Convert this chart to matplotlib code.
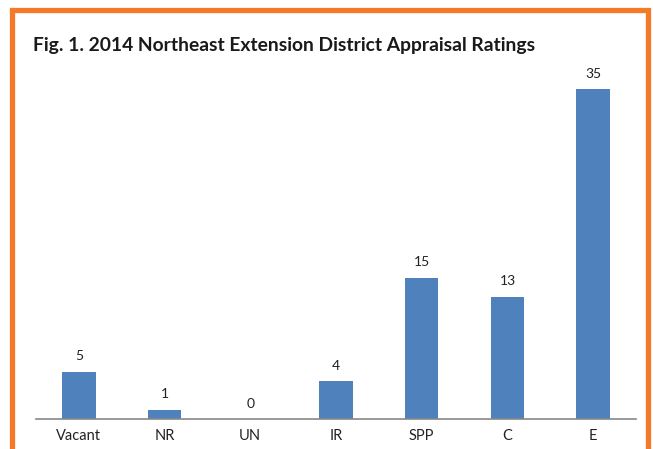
import matplotlib.pyplot as plt
from matplotlib.patches import Rectangle

categories = ["Vacant", "NR", "UN", "IR", "SPP", "C", "E"]
ratings = [5, 1, 0, 4, 15, 13, 35]

W, H = 653, 449
fig = plt.figure(figsize=(W / 100, H / 100), dpi=100)

# axes placed in pixel terms: x 36..636, baseline at y=419
ax = fig.add_axes([36 / W, (H - 419) / H, 600 / W, 358 / H])
ax.bar(range(len(categories)), ratings, width=0.39, color="#4F81BD")
ax.set_xlim(-0.5, len(categories) - 0.5)
ax.set_ylim(0, 38)

for i, v in enumerate(ratings):
    ax.text(i, v + 1.0, str(v), ha="center", va="bottom",
            fontsize=10, family="Lato", color="#222222")

ax.set_xticks(range(len(categories)))
ax.set_xticklabels(categories, fontsize=10.5, family="Lato", color="#222222")
ax.tick_params(axis="x", length=0, pad=7)
ax.set_yticks([])
for side in ["top", "right", "left"]:
    ax.spines[side].set_visible(False)
ax.spines["bottom"].set_color("#888888")
ax.spines["bottom"].set_linewidth(1.2)

fig.text(33 / W, 1 - 51 / H, "Fig. 1. 2014 Northeast Extension District Appraisal Ratings",
         fontsize=13.9, fontweight="bold", family="Lato", color="#1a1a1a",
         ha="left", va="baseline")

# orange frame around the figure
fig.patches.append(Rectangle((12.5 / W, -0.1), 635 / W, 1.1 - 10.5 / H,
                             transform=fig.transFigure, fill=False,
                             edgecolor="#F47A2A", linewidth=3.8))

plt.savefig("out.png", dpi=100)
